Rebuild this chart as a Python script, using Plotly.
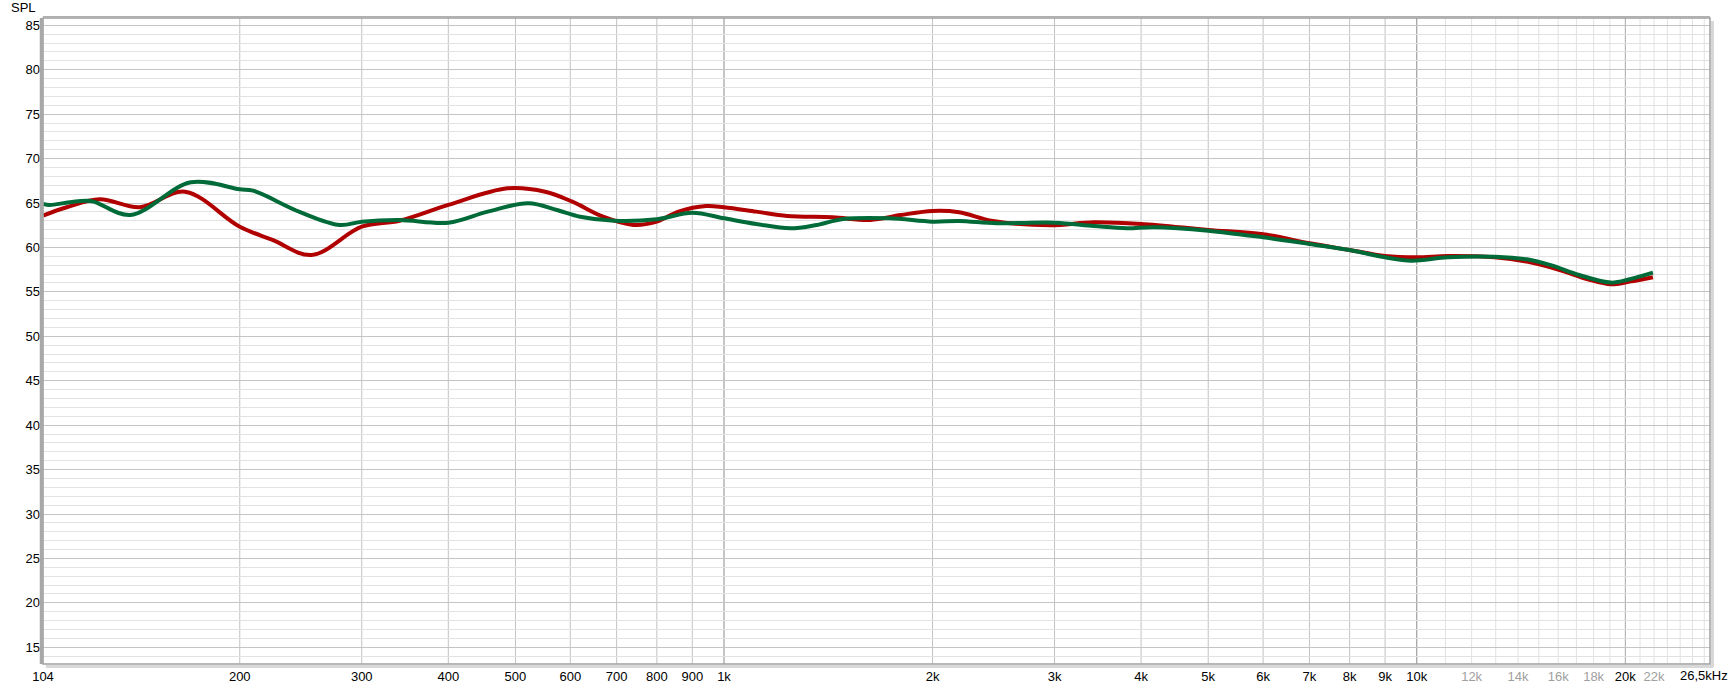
import numpy as np
import plotly.graph_objects as go

# ---- data ----
red_freq = [104, 112.5, 125.6, 143.5, 166.7, 200, 223, 254, 300, 340, 400, 487, 552, 604, 669, 740,
            800, 860, 942, 1000, 1113, 1234, 1435, 1626, 1799, 2000, 2184, 2445, 2955, 3420, 4000,
            5000, 6000, 7000, 8000, 9000, 10000, 11090, 12940, 14420, 16080, 17650, 19070, 20290, 21920]
red_spl = [63.57, 64.52, 65.42, 64.52, 66.27, 62.33, 60.85, 59.15, 62.33, 63.0, 64.78, 66.65, 66.27, 65.15,
           63.46, 62.53, 62.9, 64.03, 64.66, 64.52, 64.03, 63.54, 63.39, 63.09, 63.65, 64.1, 63.96, 62.98,
           62.5, 62.83, 62.64, 61.97, 61.48, 60.46, 59.71, 59.03, 58.89, 59.03, 58.89, 58.4, 57.46, 56.42,
           55.85, 56.15, 56.64]

green_freq = [104, 106.4, 113.7, 122, 139, 170, 200, 209, 244, 279, 300, 340, 400, 456, 522, 574, 620, 695,
              800, 900, 1000, 1113, 1247, 1361, 1487, 1734, 2000, 2184, 2475, 3000, 3420, 3810, 4170, 5000,
              6000, 7000, 8000, 9000, 9820, 11090, 12940, 14420, 15610, 17150, 19070, 20290, 21920]
green_spl = [64.89, 64.78, 65.08, 65.23, 63.65, 67.33, 66.54, 66.39, 64.0, 62.52, 62.9, 63.09, 62.79, 64.03,
             64.97, 64.21, 63.46, 63.0, 63.17, 63.91, 63.28, 62.64, 62.15, 62.53, 63.2, 63.28, 62.9, 62.98,
             62.72, 62.79, 62.41, 62.15, 62.27, 61.89, 61.14, 60.39, 59.71, 58.89, 58.5, 58.89, 58.96, 58.66,
             58.0, 56.9, 56.04, 56.42, 57.16]

x_tick_vals = [104, 200, 300, 400, 500, 600, 700, 800, 900, 1000, 2000, 3000, 4000, 5000, 6000, 7000,
               8000, 9000, 10000, 12000, 14000, 16000, 18000, 20000, 22000]
x_tick_text = ["104", "200", "300", "400", "500", "600", "700", "800", "900", "1k", "2k", "3k", "4k", "5k",
               "6k", "7k", "8k", "9k", "10k", "12k", "14k", "16k", "18k", "20k", "22k"]
x_tick_muted = ["12k", "14k", "16k", "18k", "22k"]
y_tick_vals = [15, 20, 25, 30, 35, 40, 45, 50, 55, 60, 65, 70, 75, 80, 85]

grid_mid = [200, 300, 400, 500, 600, 700, 800, 900, 2000, 3000, 4000, 5000, 6000, 7000, 8000, 9000]
grid_dark = [1000, 10000]
grid_dark2 = [20000]
grid_light = [f for f in range(11000, 27000, 1000) if f not in (20000,)]

X_MIN, X_MAX = 104, 26500
Y_MIN, Y_MAX = 13.12, 85.82

W, H = 1732, 689
L, R, T, B = 43, 22, 18, 25
PW, PH = W - L - R, H - T - B

fig = go.Figure()

fig.add_trace(go.Scatter(x=red_freq, y=red_spl, mode="lines", line=dict(color="#b00000", width=4, shape="spline", smoothing=1.0),
                         hoverinfo="x+y", showlegend=False))
fig.add_trace(go.Scatter(x=green_freq, y=green_spl, mode="lines", line=dict(color="#006b38", width=4, shape="spline", smoothing=1.0),
                         hoverinfo="x+y", showlegend=False))

shapes = []
def vline(f, color, width=1):
    shapes.append(dict(type="line", xref="x", yref="paper", x0=f, x1=f, y0=0, y1=1,
                       line=dict(color=color, width=width), layer="below"))

for f in grid_light:
    vline(f, "#e2e2e2")
for f in grid_mid:
    vline(f, "#c2c2c2")
for f in grid_dark2:
    vline(f, "#a8a8a8")
for f in grid_dark:
    vline(f, "#8a8a8a")

# frame with shadow
sx = 1.0 / PW
sy = 1.0 / PH
shapes.append(dict(type="line", xref="paper", yref="paper", x0=1 + 2.5 * sx, x1=1 + 2.5 * sx, y0=-3 * sy, y1=1 - 3 * sy,
                   line=dict(color="#d8d8d8", width=3), layer="above"))
shapes.append(dict(type="line", xref="paper", yref="paper", x0=3 * sx, x1=1 + 3 * sx, y0=-2.5 * sy, y1=-2.5 * sy,
                   line=dict(color="#d8d8d8", width=3), layer="above"))
shapes.append(dict(type="rect", xref="paper", yref="paper", x0=0, x1=1, y0=0, y1=1,
                   line=dict(color="#a0a0a0", width=1.5), layer="above"))
shapes.append(dict(type="line", xref="paper", yref="paper", x0=-1.5 * sx, x1=-1.5 * sx, y0=0, y1=1,
                   line=dict(color="#a8a8a8", width=3.5), layer="above"))
shapes.append(dict(type="line", xref="paper", yref="paper", x0=0, x1=1, y0=1 + 1 * sy, y1=1 + 1 * sy,
                   line=dict(color="#b0b0b0", width=2), layer="above"))

ticktext = [("<span style='color:#a0a0a0'>%s</span>" % t) if t in x_tick_muted else t for t in x_tick_text]

font = "Liberation Sans, Arial, sans-serif"
FS = 13

fig.update_layout(
    width=W, height=H,
    margin=dict(l=L, r=R, t=T, b=B, pad=0, autoexpand=False),
    paper_bgcolor="white", plot_bgcolor="white",
    font=dict(family=font, size=FS, color="#000000"),
    shapes=shapes,
    xaxis=dict(type="log", range=[np.log10(X_MIN), np.log10(X_MAX)], tickmode="array", automargin=False,
               tickvals=x_tick_vals, ticktext=ticktext, showgrid=False, zeroline=False,
               showline=False, ticks="", ticklen=0, ticklabelstandoff=3,
               tickfont=dict(size=FS, family=font, color="#000")),
    yaxis=dict(range=[Y_MIN, Y_MAX], tickmode="array", tickvals=y_tick_vals, showgrid=True, automargin=False,
               gridcolor="#c4c4c4", gridwidth=1, zeroline=False, showline=False, ticks="",
               ticklabelstandoff=2,
               tickfont=dict(size=FS, family=font, color="#000"),
               minor=dict(dtick=1, tick0=0, showgrid=True, gridcolor="#e2e2e2", gridwidth=1, ticks="")),
    annotations=[
        dict(text="SPL", xref="paper", yref="paper", x=0, y=1, xanchor="right", yanchor="bottom",
             xshift=-5, yshift=1, showarrow=False, font=dict(size=FS, family=font, color="#000")),
        dict(text="26,5kHz", xref="paper", yref="paper", x=1, y=0, xanchor="center", yanchor="top",
             xshift=-6, yshift=-2, showarrow=False, font=dict(size=FS, family=font, color="#000")),
    ],
)

fig.write_html("out.html", config={"displayModeBar": False},
               post_script="document.body.style.margin='0px';document.body.style.overflow='hidden';")
